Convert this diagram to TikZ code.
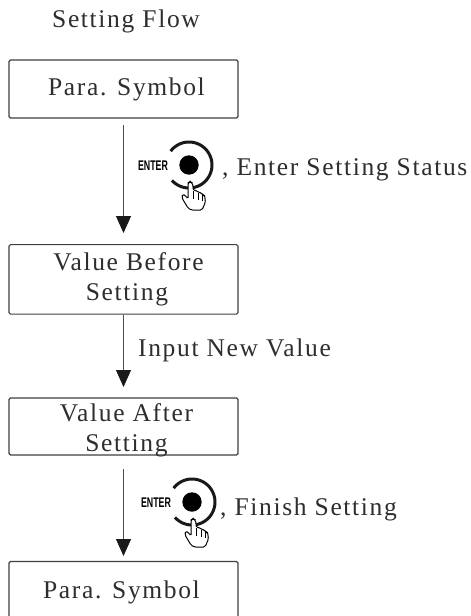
\documentclass[tikz,border=0pt]{standalone}
\usepackage{fontspec}
\usepackage{graphicx}
\setmainfont[LetterSpace=6.5]{Liberation Serif}
\newfontfamily\enterfont{Liberation Sans}
\usetikzlibrary{arrows.meta}
\tikzset{x=1pt,y=-1pt,
 boxnode/.style={draw=black!75,line width=1.1pt,rounded corners=1.5pt,minimum width=229pt,inner sep=0pt,align=center,font=\fontsize{25.5}{30}\selectfont,text=black!82},
 boxtext/.style={inner sep=0pt,align=center,font=\fontsize{25.5}{30}\selectfont,text=black!82},
 lab/.style={anchor=base west,inner sep=0pt,font=\fontsize{25.5}{30}\selectfont,text=black!82},
 flow/.style={draw=black!70,line width=0.9pt,-{Triangle[length=17pt,width=15pt,color=black!90]}}}
\newcommand{\moved}[3]{\raisebox{#2}{\hspace*{#1}#3}}
\newcommand{\enterknob}[2]{%
 \begin{scope}[shift={(#1,#2)}]
  \node[inner sep=0pt,font=\fontsize{14}{14}\selectfont\enterfont\bfseries] (#1e) at (-36,1) {\scalebox{.63}[1]{ENTER}};
  \fill[black] (0,0) circle (9.7);
  \draw[line width=3pt,black!90] plot[domain=-143:138,samples=50,smooth] ({23*cos(\x)},{23*sin(\x)});
  \draw[line width=1pt,fill=white,rounded corners=1.6pt] (2,45) -- (-1,43) -- (-7,33) -- (-6.5,29) -- (-3,31) -- (-1,34) -- (-1,18) -- (1,16.5) -- (3.5,18) -- (4.5,26) -- (8,25) -- (9,28) -- (12,27) -- (13,30) -- (15.5,30) -- (16.5,37) -- (13,45) -- cycle;
  \draw[line width=.7pt] (4.5,26) -- (4.5,34) (9,28) -- (9,35) (13,30) -- (13,36);
 \end{scope}}
\begin{document}
\begin{tikzpicture}
\useasboundingbox (0,0) rectangle (471,616);
\clip (0,0) rectangle (471,616);
\fill[white] (0,0) rectangle (471,616);
\node[lab] (title) at (52,27) {Setting Flow};
\node[boxnode,minimum height=58pt] (b1) at (123.5,89) {\moved{6pt}{-1pt}{Para. Symbol}};
\node[boxnode,minimum height=69.5pt] (b2) at (123.5,279.3) {\moved{10pt}{-1pt}{Value Before}\\\moved{7pt}{-1pt}{Setting}};
\node[boxnode,minimum height=57pt] (b3) at (123.5,426.5) {};
\node[boxtext] (b3t) at (126.5,430.5) {Value After\\Setting};
\node[boxnode,minimum height=62pt] (b4) at (123.5,592.5) {\moved{-4pt}{-1pt}{Para. Symbol}};
\coordinate (a1s) at (123.5,125); \coordinate (a1e) at (123.5,233);
\coordinate (a3s) at (123.5,469); \coordinate (a3e) at (123.5,556);
\coordinate (a2e) at (123.5,387);
\draw[flow] (a1s) -- (a1e);
\draw[flow] (b2.south) -- (a2e);
\draw[flow] (a3s) -- (a3e);
\enterknob{189}{165}
\enterknob{192}{502}
\node[lab] (l1) at (222,175) {, Enter Setting Status};
\node[lab] (l2) at (138,356) {Input New Value};
\node[lab] (l3) at (220,515) {, Finish Setting};
\end{tikzpicture}
\end{document}
